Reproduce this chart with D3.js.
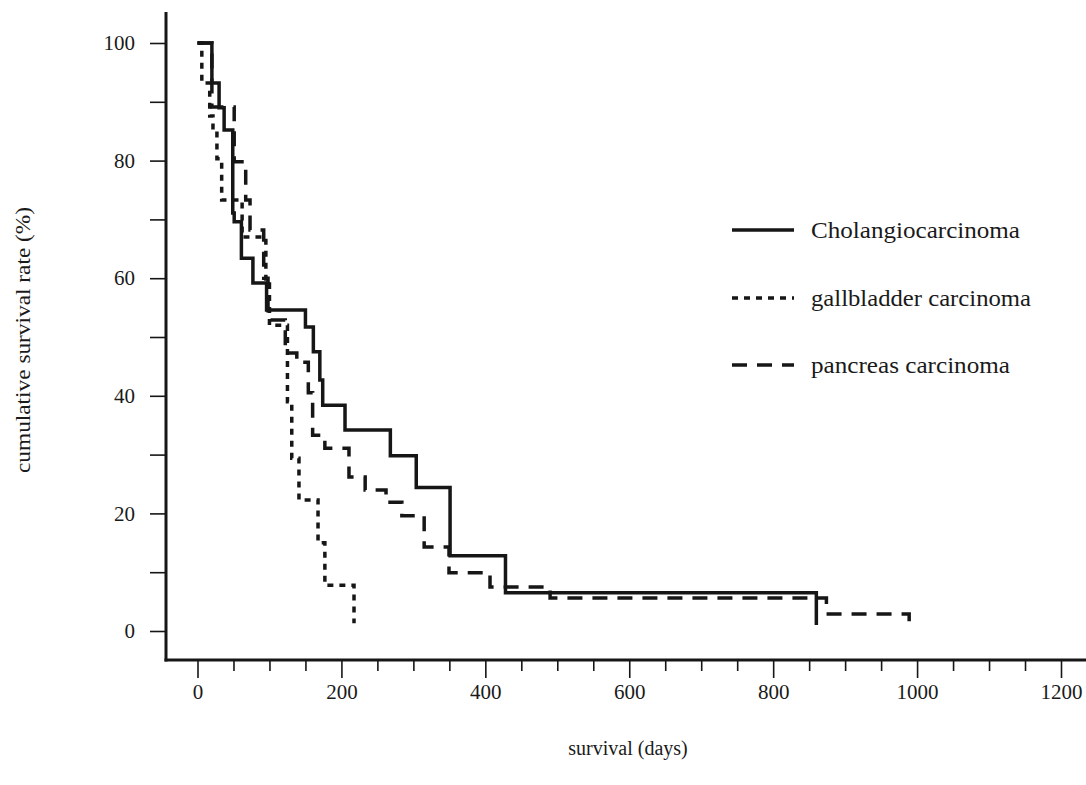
<!DOCTYPE html>
<html>
<head>
<meta charset="utf-8">
<script src="https://cdn.jsdelivr.net/npm/d3@7/dist/d3.min.js"></script>
<style>
  html, body { margin: 0; padding: 0; background: #fff; }
  svg { display: block; }
  text { font-family: "Liberation Serif", "DejaVu Serif", serif; fill: #1a1a1a; }
</style>
</head>
<body>
<svg id="chart" width="1086" height="785"></svg>
<script>
// Kaplan–Meier survival estimates (days, cumulative survival %)
const cholangioDays = [0, 20, 30, 37, 49, 51, 61, 77, 96, 150, 161, 170, 174, 205, 268, 304, 351, 428, 860];
const cholangioSurv = [100, 93.2, 89.0, 85.2, 71.1, 69.6, 63.4, 59.2, 54.6, 51.7, 47.5, 42.7, 38.4, 34.2, 29.8, 24.4, 12.8, 6.5, 1.0];

const gallbladderDays = [0, 6, 17, 21.5, 27, 33.6, 62, 95, 100, 125, 131, 141, 167.5, 177, 217.5];
const gallbladderSurv = [100, 93.2, 87.6, 85.0, 80.3, 73.3, 67.0, 59.0, 52.0, 39.0, 29.4, 22.3, 15.0, 7.8, 1.3];

const pancreasDays = [0, 20, 51, 67, 73, 92, 98, 122, 138, 154, 160, 177, 210.5, 233, 262, 284, 315, 349.5, 406.5, 490, 874, 989];
const pancreasSurv = [100, 89.1, 79.8, 73.3, 68.2, 60.0, 52.9, 47.3, 45.7, 40.5, 33.3, 31.1, 26.2, 24.0, 21.9, 19.6, 14.3, 9.9, 7.5, 5.6, 2.9, 0.7];

const seriesNames = ["Cholangiocarcinoma", "gallbladder carcinoma", "pancreas carcinoma"];
const yTickValues = [0, 20, 40, 60, 80, 100];
const xTickValues = [0, 200, 400, 600, 800, 1000, 1200];

const yTitle = "cumulative survival rate (%)";
const xTitle = "survival (days)";

const svg = d3.select("#chart");
const ink = "#161616";

const x = d3.scaleLinear().domain([0, 1200]).range([197.5, 1061]);
const y = d3.scaleLinear().domain([0, 100]).range([631, 43]);

const axisX = 166;   // vertical axis position
const axisY = 660;   // horizontal axis position

// Y axis: ticks every 10, labels every 20
const yAxis = svg.append("g").attr("transform", `translate(${axisX},0)`)
  .call(d3.axisLeft(y).tickValues(d3.range(0, 101, 10)).tickSize(16).tickPadding(15)
    .tickFormat(d => yTickValues.includes(d) ? d : ""));
yAxis.select(".domain").remove();
yAxis.selectAll(".tick line").attr("stroke", ink).attr("stroke-width", 1.6);
yAxis.selectAll(".tick text").attr("font-size", 21).attr("font-family", "Liberation Serif").attr("fill", ink);

// X axis: minor ticks every 50 days, major every 200 days
const xMinor = svg.append("g").attr("transform", `translate(0,${axisY})`)
  .call(d3.axisBottom(x).tickValues(d3.range(0, 1201, 50).filter(d => !xTickValues.includes(d)))
    .tickSize(11).tickFormat(""));
xMinor.select(".domain").remove();
xMinor.selectAll(".tick line").attr("stroke", ink).attr("stroke-width", 1.6);

const xMajor = svg.append("g").attr("transform", `translate(0,${axisY})`)
  .call(d3.axisBottom(x).tickValues(xTickValues).tickSize(18).tickPadding(6).tickFormat(d3.format("d")));
xMajor.select(".domain").remove();
xMajor.selectAll(".tick line").attr("stroke", ink).attr("stroke-width", 1.6);
xMajor.selectAll(".tick text").attr("font-size", 21).attr("font-family", "Liberation Serif").attr("fill", ink);

// Axis lines
svg.append("line").attr("x1", axisX).attr("x2", axisX).attr("y1", 12).attr("y2", axisY + 1.5)
  .attr("stroke", ink).attr("stroke-width", 3);
svg.append("line").attr("x1", axisX - 1.5).attr("x2", 1086).attr("y1", axisY).attr("y2", axisY)
  .attr("stroke", ink).attr("stroke-width", 3);

// Axis titles
svg.append("text")
  .attr("transform", `translate(22,340) rotate(-90)`)
  .attr("text-anchor", "middle").attr("dominant-baseline", "central")
  .attr("font-size", 22).attr("textLength", 266).attr("lengthAdjust", "spacingAndGlyphs")
  .text(yTitle);
svg.append("text")
  .attr("x", 628).attr("y", 748)
  .attr("text-anchor", "middle").attr("dominant-baseline", "central")
  .attr("font-size", 20).text(xTitle);

// Survival curves
const styles = [
  { dash: null },
  { dash: "6,6" },
  { dash: "15,10" }
];
const curves = [
  d3.zip(cholangioDays, cholangioSurv),
  d3.zip(gallbladderDays, gallbladderSurv),
  d3.zip(pancreasDays, pancreasSurv)
];
const stepLine = d3.line().x(d => x(d[0])).y(d => y(d[1])).curve(d3.curveStepAfter);

curves.forEach((pts, i) => {
  svg.append("path")
    .attr("d", stepLine(pts))
    .attr("fill", "none")
    .attr("stroke", ink)
    .attr("stroke-width", 3.5)
    .attr("stroke-linejoin", "miter")
    .attr("stroke-dasharray", styles[i].dash);
});

// Legend
const legendY = [230, 298, 365];
const legendWidths = [209, 220, 199];
seriesNames.forEach((name, i) => {
  svg.append("line")
    .attr("x1", 732).attr("x2", 794).attr("y1", legendY[i]).attr("y2", legendY[i])
    .attr("stroke", ink).attr("stroke-width", 3.5)
    .attr("stroke-dasharray", styles[i].dash);
  svg.append("text")
    .attr("x", 811).attr("y", legendY[i])
    .attr("dominant-baseline", "central")
    .attr("font-size", 23)
    .attr("textLength", legendWidths[i]).attr("lengthAdjust", "spacingAndGlyphs")
    .text(name);
});
</script>
</body>
</html>
